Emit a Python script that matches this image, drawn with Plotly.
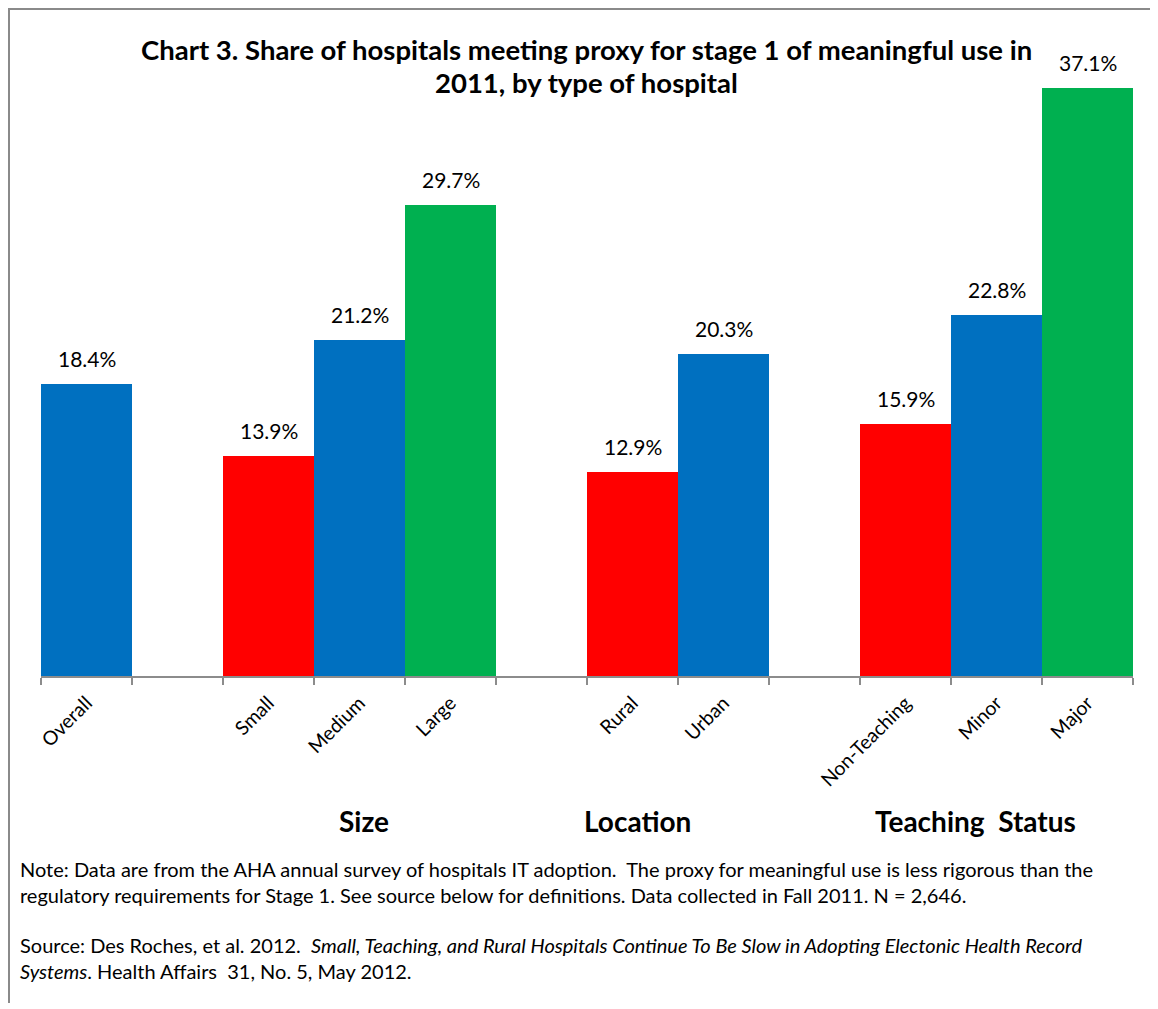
import plotly.graph_objects as go

# ---- data ----
groups = ["Size", "Location", "Teaching  Status"]
categories = ["Overall", None, "Small", "Medium", "Large", None,
              "Rural", "Urban", None, "Non-Teaching", "Minor", "Major"]
values = [18.4, None, 13.9, 21.2, 29.7, None, 12.9, 20.3, None, 15.9, 22.8, 37.1]

title_lines = ["Chart 3. Share of hospitals meeting proxy for stage 1 of meaningful use in",
               "2011, by type of hospital"]
note_text = ("Note: Data are from the AHA annual survey of hospitals IT adoption.  The proxy for meaningful use is less rigorous than the<br>"
             "regulatory requirements for Stage 1. See source below for definitions. Data collected in Fall 2011. N = 2,646.")
source_text = ("Source: Des Roches, et al. 2012.  <i>Small, Teaching, and Rural Hospitals Continue To Be Slow in Adopting Electonic Health Record</i><br>"
               "<i>Systems</i>. Health Affairs  31, No. 5, May 2012.")

# ---- style ----
BLUE, RED, GREEN = "#0070C0", "#FF0000", "#00B050"
bar_colors = [BLUE, "white", RED, BLUE, GREEN, "white", RED, BLUE, "white", RED, BLUE, GREEN]
group_label_px = [364, 638, 975]   # page-pixel centres of the group labels
FONT = "Lato, Liberation Sans, sans-serif"

OFF = 8                      # page body margin
W, H = 1158 - OFF, 1009 - OFF
PL, PR, PT, PB = 41, 1133, 42, 676   # plot area in page pixels
L, R, T, B = PL - OFF, PR - OFF, PT - OFF, PB - OFF
YMAX = 40.0

def px_x(p):
    return (p - OFF - L) / (R - L)

def px_y(p):
    return (B - (p - OFF)) / (B - T)

# spacer slots need unique blank names
cats, k = [], 0
for c in categories:
    if c is None:
        k += 1
        cats.append(" " * k)
    else:
        cats.append(c)
n = len(cats)

fig = go.Figure()
fig.add_trace(go.Bar(
    x=cats, y=values, marker=dict(color=bar_colors, line=dict(width=0)),
    hoverinfo="skip", showlegend=False,
))

annotations = []
for c, v in zip(cats, values):
    if v is None:
        continue
    annotations.append(dict(
        x=c, y=v, xref="x", yref="y", text=f"{v:.1f}%", showarrow=False,
        yanchor="bottom", yshift=11, font=dict(size=21, color="black", family=FONT),
    ))

for gname, gx in zip(groups, group_label_px):
    annotations.append(dict(
        x=px_x(gx), y=px_y(821), xref="paper", yref="paper",
        text=f"<b>{gname}</b>", showarrow=False, xanchor="center", yanchor="middle",
        font=dict(size=28, color="black", family=FONT),
    ))

for line, yc in zip(title_lines, [49, 82]):
    annotations.append(dict(
        x=px_x(586), y=px_y(yc), xref="paper", yref="paper", text=f"<b>{line}</b>",
        showarrow=False, xanchor="center", yanchor="middle", align="center",
        font=dict(size=27.5, color="black", family=FONT),
    ))
annotations.append(dict(
    x=px_x(18), y=px_y(882), xref="paper", yref="paper", text=note_text,
    showarrow=False, xanchor="left", yanchor="middle", align="left",
    font=dict(size=20, color="black", family=FONT),
))
annotations.append(dict(
    x=px_x(18), y=px_y(958), xref="paper", yref="paper", text=source_text,
    showarrow=False, xanchor="left", yanchor="middle", align="left",
    font=dict(size=20, color="black", family=FONT),
))

shapes = [
    dict(type="line", xref="paper", yref="paper", x0=px_x(8), x1=px_x(1160), y0=px_y(9), y1=px_y(9),
         line=dict(color="#8a8a8a", width=2)),
    dict(type="line", xref="paper", yref="paper", x0=px_x(9), x1=px_x(9), y0=px_y(8), y1=px_y(1003),
         line=dict(color="#8a8a8a", width=2)),
]

fig.update_layout(
    width=W, height=H,
    margin=dict(l=L, r=W - R, t=T, b=H - B, pad=0),
    paper_bgcolor="white", plot_bgcolor="white",
    bargap=0,
    annotations=annotations, shapes=shapes,
    font=dict(family=FONT, color="black"),
    xaxis=dict(
        type="category", categoryorder="array", categoryarray=cats,
        range=[-0.5, n - 0.5],
        showline=True, linecolor="#8c8c8c", linewidth=2,
        ticks="outside", tickson="boundaries", ticklen=7, tickcolor="#8c8c8c", tickwidth=2,
        tickangle=-45, tickfont=dict(size=19.5, color="black", family=FONT),
        ticklabelstandoff=6,
        showgrid=False, zeroline=False, fixedrange=True,
    ),
    yaxis=dict(
        range=[0, YMAX], visible=False, showgrid=False, zeroline=False, fixedrange=True,
    ),
)

fig.write_html("out.html")
